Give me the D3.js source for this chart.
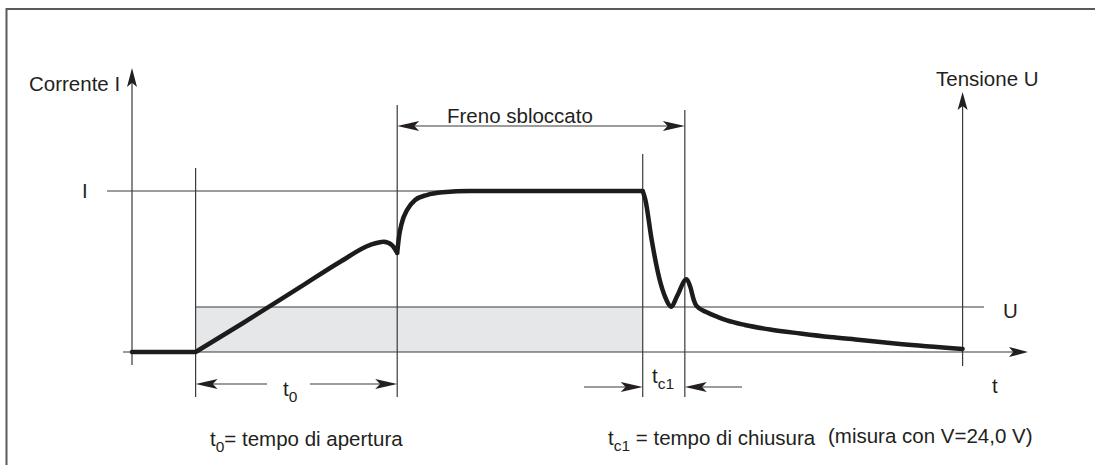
<!DOCTYPE html>
<html>
<head>
<meta charset="utf-8">
<script src="https://cdn.jsdelivr.net/npm/d3@7"></script>
<style>
  html, body { margin: 0; padding: 0; background: #fff; }
  svg { display: block; }
  text { font-family: "Liberation Sans", Arial, Helvetica, sans-serif; fill: #231f20; }
</style>
</head>
<body>
<svg id="chart" width="1095" height="465"></svg>
<script>
// Current curve of the brake coil: time (relative units) and current (% of I)
const tempo    = [0, 7.1, 12.4, 18.8, 23.2, 26.6, 28.1, 29.0, 29.6,
                  29.8, 30.1, 30.7, 31.6, 32.9, 34.7, 37.7, 57.0,
                  57.3, 58.0, 58.9, 59.5, 60.2, 60.8, 61.9, 62.3, 62.7, 63.0,
                  64.1, 65.4, 66.4, 68.4, 71.2, 74.6, 77.9, 81.3, 85.7, 92.7];
const corrente = [0, 0, 18.0, 40.4, 55.9, 66.5, 68.5, 66.5, 61.5,
                  71.6, 79.9, 88.2, 94.4, 97.5, 99.2, 100, 100,
                  94.4, 69.6, 44.7, 34.2, 28.1, 34.3, 45.2, 40.6, 32.3, 28.6,
                  24.8, 21.7, 19.6, 16.8, 14.0, 11.5, 9.3, 7.5, 5.0, 1.9];
// indices where the curve has a sharp corner (switch-on, armature pull-in, switch-off)
const spigoli  = [1, 8, 16];

// characteristic instants on the time axis
const nomiIstanti = ["inserzione", "sblocco", "disinserzione", "chiusura", "asseU"];
const istanti     = [7.1, 29.6, 57.0, 61.7, 92.7];

// levels
const livelloI = 100;   // rated current I (%)
const livelloU = 24;    // supply voltage U (V)

const svg = d3.select("#chart");
const x  = d3.scaleLinear().domain([0, 100]).range([132, 1028]);
const yI = d3.scaleLinear().domain([0, 100]).range([352, 191]);
const yU = d3.scaleLinear().domain([0, 24]).range([352, 307]);
const at = name => x(istanti[nomiIstanti.indexOf(name)]);

const LINE = "#3a3a3a";

// outer frame
svg.append("path").attr("d", "M6.5,465 L6.5,9 L1095,9")
  .attr("fill", "none").attr("stroke", "#5a5a5a").attr("stroke-width", 2);

// arrowhead: tip at (px,py), pointing in direction ang (degrees)
function freccia(px, py, ang, len = 22, half = 5) {
  svg.append("path")
    .attr("d", `M0,0 L${-len},${-half} L${-len * 0.78},0 L${-len},${half} Z`)
    .attr("transform", `translate(${px},${py}) rotate(${ang})`)
    .attr("fill", "#231f20");
}
function linea(x1, y1, x2, y2, w = 1.2) {
  svg.append("line").attr("x1", x1).attr("y1", y1).attr("x2", x2).attr("y2", y2)
    .attr("stroke", LINE).attr("stroke-width", w);
}

// shaded voltage area while the brake is energised
svg.append("rect")
  .attr("x", at("inserzione")).attr("y", yU(livelloU))
  .attr("width", at("disinserzione") - at("inserzione"))
  .attr("height", yU(0) - yU(livelloU))
  .attr("fill", "#e6e7e8");

// reference levels I and U
linea(107, yI(livelloI), at("disinserzione"), yI(livelloI));
linea(at("inserzione"), yU(livelloU), 984, yU(livelloU));

// time axis
linea(123, yI(0), x(100) - 10, yI(0));
freccia(x(100), yI(0), 0, 19, 5);

// current axis (left) and voltage axis (right)
linea(x(0), 365, x(0), 80);
freccia(x(0), 68, -90, 19, 5);
linea(at("asseU"), 366, at("asseU"), 104);
freccia(at("asseU"), 92, -90, 18, 5);

// vertical markers
linea(at("inserzione"), 168, at("inserzione"), 397);
linea(at("sblocco"), 105, at("sblocco"), 397);
linea(at("disinserzione"), 154, at("disinserzione"), 397);
linea(at("chiusura"), 110, at("chiusura"), 397);

// "Freno sbloccato" span
linea(at("sblocco") + 10, 126, at("chiusura") - 10, 126);
freccia(at("sblocco"), 126, 180);
freccia(at("chiusura"), 126, 0);

// t0 span
linea(at("inserzione") + 10, 384, 267, 384);
linea(310, 384, at("sblocco") - 10, 384);
freccia(at("inserzione"), 384, 180);
freccia(at("sblocco"), 384, 0);

// tc1 span (arrows from outside)
linea(584, 387, at("disinserzione") - 10, 387);
freccia(at("disinserzione"), 387, 0);
linea(at("chiusura") + 10, 387, 742, 387);
freccia(at("chiusura"), 387, 180);

// current curve, smooth between corners
const pts = tempo.map((t, i) => [x(t), yI(corrente[i])]);
const cuts = [0, ...spigoli, pts.length - 1];
const gen = d3.line().curve(d3.curveMonotoneX);
let d = "";
for (let k = 0; k < cuts.length - 1; k++) {
  d += gen(pts.slice(cuts[k], cuts[k + 1] + 1));
}
svg.append("path").attr("d", d)
  .attr("fill", "none").attr("stroke", "#1c1c1c").attr("stroke-width", 4.5)
  .attr("stroke-linejoin", "round").attr("stroke-linecap", "round");

// texts
const FS = 20.5, FSS = 15.5;
function testo(tx, ty, s) {
  return svg.append("text").attr("x", tx).attr("y", ty).attr("font-size", FS).text(s);
}
function pedice(tx, ty, base, sub, rest) {
  const t = svg.append("text").attr("x", tx).attr("y", ty).attr("font-size", FS);
  t.append("tspan").text(base);
  t.append("tspan").attr("font-size", FSS).attr("dy", 6).text(sub);
  if (rest) t.append("tspan").attr("dy", -6).text(rest);
  return t;
}
testo(29, 91, "Corrente I");
testo(82, yI(livelloI) + 7, "I");
testo(936, 86, "Tensione U");
testo(447, 123, "Freno sbloccato");
testo(1003, 318, "U");
testo(992, 393, "t");
pedice(283, 396, "t", "0");
pedice(652, 383, "t", "c1");
pedice(210, 446, "t", "0", "= tempo di apertura");
pedice(608, 445, "t", "c1", " = tempo di chiusura");
testo(828, 443, "(misura con V=24,0 V)");
</script>
</body>
</html>
